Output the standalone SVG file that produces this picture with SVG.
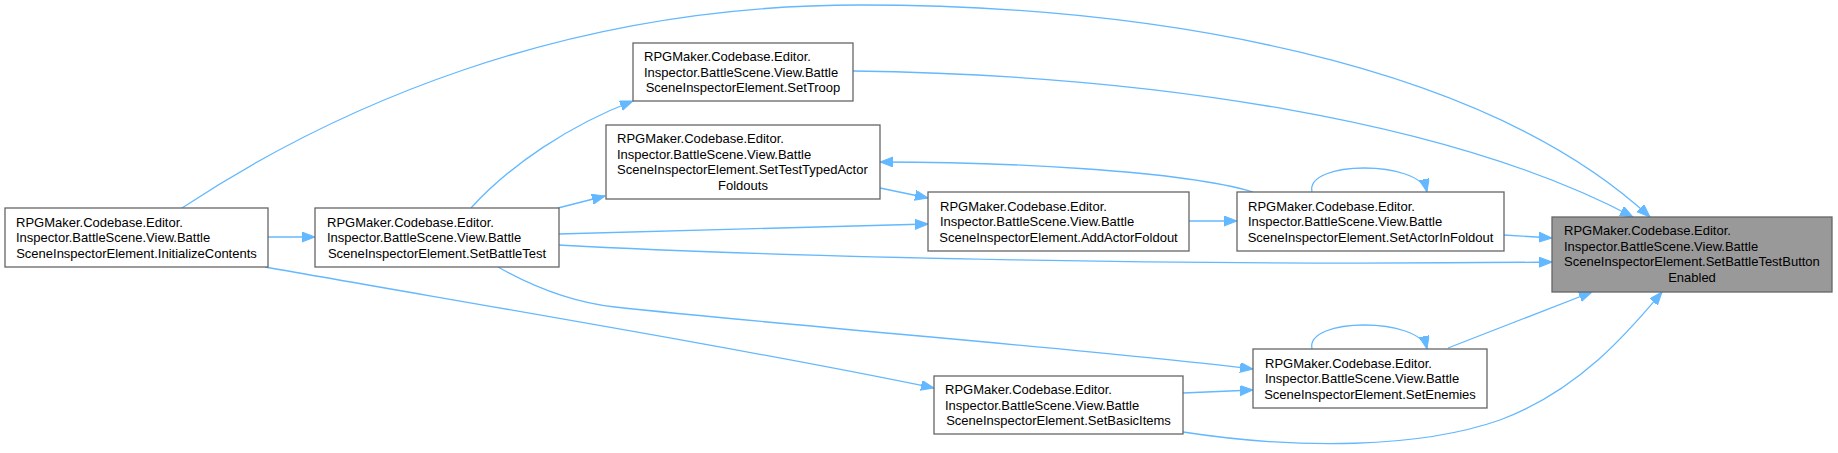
<svg xmlns="http://www.w3.org/2000/svg" width="1838" height="453" viewBox="0 0 1838 453">
<style>
.n rect{fill:#ffffff;stroke:#666666;stroke-width:1.3}
.n.t rect{fill:#999999}
.n text{font-family:"Liberation Sans",Arial,sans-serif;font-size:13px;fill:#000000}
.n text.c{text-anchor:middle}
#edges path{fill:none;stroke:#63b8ff;stroke-width:1.3;marker-end:url(#ah)}
</style>
<defs>
<marker id="ah" markerUnits="userSpaceOnUse" markerWidth="14" markerHeight="11" refX="13" refY="5" orient="auto">
<path d="M0,0 L13,5 L0,10 z" fill="#63b8ff" stroke="#63b8ff" stroke-width="1"/>
</marker>
</defs>
<rect width="1838" height="453" fill="#ffffff"/>
<g id="edges">
<path d="M182,208 C330,110 560,5 860,5 C1150,5 1480,60 1650,217"/>
<path d="M853,71 C1150,75 1450,120 1633,217"/>
<path d="M471,208 C510,165 570,125 633,101"/>
<path d="M558,208 L605,196"/>
<path d="M558,234 L928,224"/>
<path d="M880,188 L928,198"/>
<path d="M1253,192 C1180,170 1000,162 880,162"/>
<path d="M1189,221 L1237,221"/>
<path d="M1312,192 C1305,160 1420,160 1427,192"/>
<path d="M1504,235 L1552,238"/>
<path d="M558,245 C800,258 1200,266 1552,262"/>
<path d="M498,267 C530,285 570,302 615,307 C800,327 1100,350 1253,369"/>
<path d="M265,267 C480,305 750,350 934,388"/>
<path d="M1183,393 L1253,390"/>
<path d="M1312,349 C1305,317 1420,317 1427,349"/>
<path d="M1448,348 L1592,292"/>
<path d="M1183,432 C1300,450 1420,448 1500,420 C1580,390 1630,330 1662,292"/>
<path d="M268,237 L315,237"/>
</g>
<g id="target" class="n t">
<rect x="1552" y="217" width="280" height="75"/>
<text x="1564" y="235">RPGMaker.Codebase.Editor.</text>
<text x="1564" y="250.5">Inspector.BattleScene.View.Battle</text>
<text x="1564" y="266">SceneInspectorElement.SetBattleTestButton</text>
<text class="c" x="1692" y="281.5">Enabled</text>
</g>
<g id="initializeContents" class="n">
<rect x="5" y="208" width="263" height="59"/>
<text x="16" y="226.5">RPGMaker.Codebase.Editor.</text>
<text x="16" y="242">Inspector.BattleScene.View.Battle</text>
<text class="c" x="136.5" y="257.5">SceneInspectorElement.InitializeContents</text>
</g>
<g id="setBattleTest" class="n">
<rect x="315" y="208" width="244" height="59"/>
<text x="327" y="226.5">RPGMaker.Codebase.Editor.</text>
<text x="327" y="242">Inspector.BattleScene.View.Battle</text>
<text class="c" x="437" y="257.5">SceneInspectorElement.SetBattleTest</text>
</g>
<g id="setTroop" class="n">
<rect x="633" y="43" width="220" height="58"/>
<text x="644" y="61">RPGMaker.Codebase.Editor.</text>
<text x="644" y="76.5">Inspector.BattleScene.View.Battle</text>
<text class="c" x="743" y="92">SceneInspectorElement.SetTroop</text>
</g>
<g id="setTestTypedActorFoldouts" class="n">
<rect x="606" y="125" width="274" height="74"/>
<text x="617" y="143">RPGMaker.Codebase.Editor.</text>
<text x="617" y="158.5">Inspector.BattleScene.View.Battle</text>
<text x="617" y="174">SceneInspectorElement.SetTestTypedActor</text>
<text class="c" x="743" y="189.5">Foldouts</text>
</g>
<g id="addActorFoldout" class="n">
<rect x="928" y="192" width="261" height="59"/>
<text x="940" y="210.5">RPGMaker.Codebase.Editor.</text>
<text x="940" y="226">Inspector.BattleScene.View.Battle</text>
<text class="c" x="1058.5" y="241.5">SceneInspectorElement.AddActorFoldout</text>
</g>
<g id="setActorInFoldout" class="n">
<rect x="1237" y="192" width="267" height="59"/>
<text x="1248" y="210.5">RPGMaker.Codebase.Editor.</text>
<text x="1248" y="226">Inspector.BattleScene.View.Battle</text>
<text class="c" x="1370.5" y="241.5">SceneInspectorElement.SetActorInFoldout</text>
</g>
<g id="setEnemies" class="n">
<rect x="1253" y="349" width="234" height="59"/>
<text x="1265" y="367.5">RPGMaker.Codebase.Editor.</text>
<text x="1265" y="383">Inspector.BattleScene.View.Battle</text>
<text class="c" x="1370" y="398.5">SceneInspectorElement.SetEnemies</text>
</g>
<g id="setBasicItems" class="n">
<rect x="934" y="376" width="249" height="58"/>
<text x="945" y="394">RPGMaker.Codebase.Editor.</text>
<text x="945" y="409.5">Inspector.BattleScene.View.Battle</text>
<text class="c" x="1058.5" y="425">SceneInspectorElement.SetBasicItems</text>
</g>
</svg>
